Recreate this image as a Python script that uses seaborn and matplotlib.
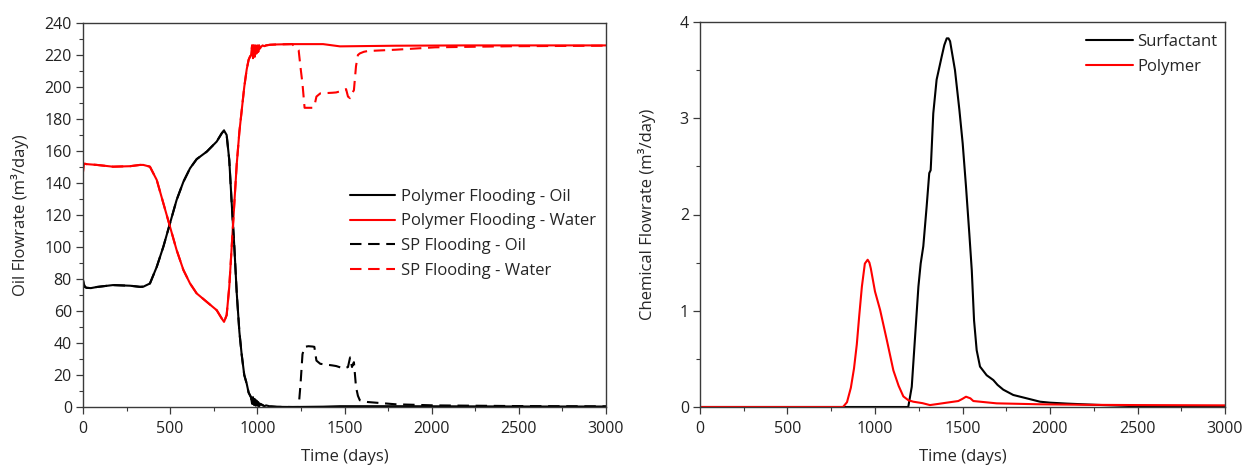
import numpy as np
import pandas as pd
import seaborn as sns
import matplotlib.pyplot as plt
from matplotlib.ticker import MultipleLocator

# ---- Production rates, polymer flooding (days, m3/day) ----
poly_t = [0, 4, 11, 21, 45, 79, 172, 270, 327, 346, 384, 423, 461, 499, 537, 576, 614, 652,
          710, 767, 796, 809, 824, 839, 853, 868, 882, 897, 910, 925, 939, 950, 958, 964,
          970, 975, 980, 985, 990, 995, 1000, 1005, 1010, 1015, 1021, 1030, 1040, 1050,
          1073, 1112, 1200, 1377, 1474, 1793, 2200, 2600, 3000]
poly_oil = [79.3, 77, 75, 74.5, 74.3, 75, 76.2, 75.8, 75.1, 75.2, 77.2, 87.6, 100.2, 114.8,
            129.4, 140.8, 149.2, 154.9, 159.6, 165.9, 171.1, 172.8, 170, 154.4, 127.3,
            100.2, 71, 47, 33, 20, 14.6, 9, 7.3, 6, 2, 6, 1.5, 5, 1, 4, 0.8, 3, 0.5, 2,
            1.7, 1.2, 0.5, 1.0, 0.4, 0.1, 0.0, 0.2, 0.5, 0.5, 0.4, 0.3, 0.3]
poly_water = [147, 152, 152, 151.8, 151.6, 151.3, 150.2, 150.5, 151.3, 151.3, 150.2, 141.9,
              127.3, 112.7, 98.1, 85.6, 77.2, 71, 65.7, 60.5, 55.3, 53.2, 57.4, 75.1, 100.2,
              127.3, 152, 172, 185, 200, 211, 217, 219, 220, 226, 218, 226, 219, 226, 221,
              226, 222, 226, 224, 225, 226, 225.5, 226, 226.4, 226.6, 226.8, 226.8, 225.4,
              225.8, 226, 226, 226]

# ---- Production rates, surfactant-polymer flooding after the early period ----
sp_t_late = [1237, 1248, 1259, 1271, 1293, 1316, 1327, 1339, 1361, 1430, 1452, 1498, 1509,
             1520, 1532, 1543, 1554, 1566, 1577, 1588, 1611, 1634, 1793, 2020, 2473, 3000]
sp_oil_late = [0, 14.6, 33, 37.6, 38, 37.8, 37.6, 29, 27, 26, 25.6, 24, 24.5, 25, 31, 25,
               28, 12.5, 7, 4.2, 3.5, 3.1, 1.7, 1.0, 0.6, 0.4]
sp_water_late = [223, 212, 202, 187, 187, 187, 188, 194, 196, 196.4, 196.6, 198, 198.7, 194,
                 193, 196, 198, 213, 220, 221, 222, 222.5, 223.3, 224.8, 225.5, 225.8]

# ---- Produced chemicals (days, m3/day) ----
surf_t = [0, 1190, 1210, 1229, 1248, 1261, 1276, 1295, 1310, 1318, 1320, 1333, 1352, 1381,
          1396, 1410, 1420, 1429, 1457, 1482, 1501, 1520, 1539, 1553, 1566, 1581, 1600,
          1638, 1676, 1700, 1733, 1790, 1867, 1943, 2000, 2100, 2269, 2496, 3000]
surf_rate = [0, 0, 0.21, 0.73, 1.25, 1.49, 1.67, 2.08, 2.43, 2.46, 2.53, 3.05, 3.40, 3.64,
             3.76, 3.83, 3.83, 3.80, 3.50, 3.09, 2.74, 2.29, 1.80, 1.42, 0.90, 0.59, 0.42,
             0.33, 0.28, 0.23, 0.18, 0.125, 0.09, 0.055, 0.045, 0.035, 0.022, 0.008, 0.0]
poly_chem_t = [0, 817, 840, 862, 880, 896, 910, 925, 942, 958, 968, 976, 990, 1000, 1029,
               1067, 1105, 1135, 1162, 1191, 1219, 1271, 1314, 1361, 1410, 1476, 1500, 1520,
               1545, 1562, 1695, 1943, 2200, 2496, 3000]
poly_chem_rate = [0, 0, 0.05, 0.2, 0.4, 0.65, 0.95, 1.25, 1.49, 1.53, 1.5, 1.44, 1.3, 1.2,
                  1.01, 0.70, 0.38, 0.22, 0.11, 0.07, 0.055, 0.04, 0.02, 0.032, 0.045, 0.062,
                  0.085, 0.107, 0.09, 0.062, 0.038, 0.028, 0.023, 0.02, 0.017]

# Before ~1230 days the SP case follows the polymer case
early = [i for i, t in enumerate(poly_t) if t < 1230]
sp_t = [poly_t[i] for i in early] + sp_t_late
sp_oil = [poly_oil[i] for i in early] + sp_oil_late
sp_water = [poly_water[i] for i in early] + sp_water_late

sns.set_style("ticks")
plt.rcParams["font.family"] = ["Open Sans", "DejaVu Sans"]
plt.rcParams.update({
    "axes.edgecolor": "#3a3a3a",
    "axes.linewidth": 1.0,
    "xtick.color": "#3a3a3a",
    "ytick.color": "#3a3a3a",
    "xtick.labelcolor": "#222222",
    "ytick.labelcolor": "#222222",
    "xtick.direction": "out",
    "ytick.direction": "out",
    "xtick.major.size": 5,
    "ytick.major.size": 5,
    "xtick.minor.size": 3,
    "ytick.minor.size": 3,
    "xtick.major.width": 0.9,
    "ytick.major.width": 0.9,
    "xtick.minor.width": 0.8,
    "ytick.minor.width": 0.8,
})

fig = plt.figure(figsize=(12.42, 4.66), dpi=100)
ax1 = fig.add_axes([83 / 1242, 1 - 407 / 466, (606 - 83) / 1242, (407 - 23) / 466])
ax2 = fig.add_axes([700 / 1242, 1 - 407 / 466, (1225 - 700) / 1242, (407 - 22) / 466])

RED = "#ff0000"
BLACK = "#000000"
LW = 1.5
DASH = (0, (5.5, 3.2))

sns.lineplot(x=poly_t, y=poly_oil, ax=ax1, color=BLACK, lw=LW, label="Polymer Flooding - Oil")
sns.lineplot(x=poly_t, y=poly_water, ax=ax1, color=RED, lw=LW, label="Polymer Flooding - Water")
sns.lineplot(x=sp_t, y=sp_oil, ax=ax1, color=BLACK, lw=LW, linestyle=DASH, label="SP Flooding - Oil")
sns.lineplot(x=sp_t, y=sp_water, ax=ax1, color=RED, lw=LW, linestyle=DASH, label="SP Flooding - Water")

sns.lineplot(x=surf_t, y=surf_rate, ax=ax2, color=BLACK, lw=LW, label="Surfactant")
sns.lineplot(x=poly_chem_t, y=poly_chem_rate, ax=ax2, color=RED, lw=LW, label="Polymer")

for ax in (ax1, ax2):
    ax.set_xlim(0, 3000)
    ax.xaxis.set_major_locator(MultipleLocator(500))
    ax.xaxis.set_minor_locator(MultipleLocator(250))
    ax.tick_params(axis="both", which="major", labelsize=11.5)
    ax.tick_params(axis="x", which="major", pad=5)
    ax.tick_params(axis="y", which="major", pad=3)
    ax.set_xlabel("Time (days)", fontsize=12, labelpad=9)
    for s in ax.spines.values():
        s.set_visible(True)

ax1.set_ylim(0, 240)
ax1.yaxis.set_major_locator(MultipleLocator(20))
ax1.yaxis.set_minor_locator(MultipleLocator(10))
ax1.set_ylabel("Oil Flowrate (m³/day)", fontsize=12, labelpad=11)

ax2.set_ylim(0, 4)
ax2.yaxis.set_major_locator(MultipleLocator(1))
ax2.yaxis.set_minor_locator(MultipleLocator(0.5))
ax2.set_ylabel("Chemical Flowrate (m³/day)", fontsize=12, labelpad=17)

ax1.legend(loc="center left", bbox_to_anchor=(0.51, 0.451), frameon=False, fontsize=12,
           handlelength=2.7, handletextpad=0.35, labelspacing=0.52, borderpad=0,
           borderaxespad=0)
ax2.legend(loc="center left", bbox_to_anchor=(0.735, 0.916), frameon=False, fontsize=12,
           handlelength=2.8, handletextpad=0.3, labelspacing=0.5, borderpad=0,
           borderaxespad=0)

fig.savefig("out.png", dpi=100)
